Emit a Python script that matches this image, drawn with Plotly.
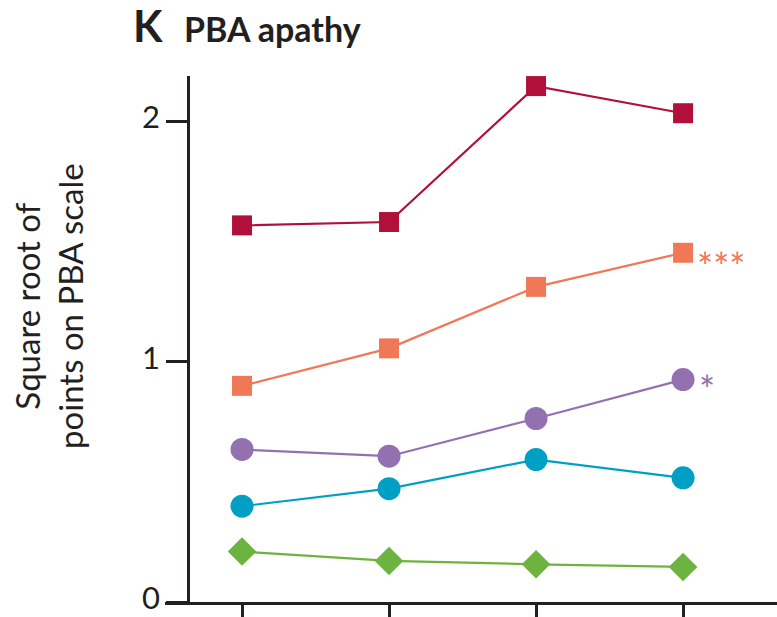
import plotly.graph_objects as go

# ---- data ----
timepoints = [0, 1, 2, 3]
series_names = ["Group 1", "Group 2", "Group 3", "Group 4", "Group 5"]
dark_red = [1.568, 1.582, 2.148, 2.035]
salmon = [0.900, 1.056, 1.312, 1.454]
purple = [0.635, 0.607, 0.764, 0.926]
blue = [0.399, 0.472, 0.593, 0.517]
green = [0.210, 0.171, 0.157, 0.146]
y_ticks = [0, 1, 2]
salmon_sig = "***"
purple_sig = "*"

# ---- styling ----
W, H = 777, 617
ML, MR, MT, MB = 165, 0, 76, 15
PW, PH = W - ML - MR, H - MT - MB
INK = "#231F20"
FONT = "Lato, Liberation Sans, sans-serif"

def px_x(px):
    return (px - ML) / PW

def px_y(py):
    return (H - MB - py) / PH

styles = [
    (dark_red, "#B0103A", "square", 20),
    (salmon, "#F07857", "square", 20),
    (purple, "#9370B0", "circle", 23),
    (blue, "#00A0C4", "circle", 23),
    (green, "#6DB33F", "diamond", 22),
]

fig = go.Figure()
for name, (vals, col, sym, sz) in zip(series_names, styles):
    fig.add_trace(go.Scatter(
        x=timepoints, y=vals, mode="lines+markers", name=name,
        line=dict(color=col, width=2.2),
        marker=dict(color=col, symbol=sym, size=sz, line=dict(width=0)),
        showlegend=False,
    ))

annotations = [
    dict(x=timepoints[-1], y=salmon[-1], xref="x", yref="y", text=salmon_sig,
         showarrow=False, xanchor="left", yanchor="middle", xshift=12, yshift=-13,
         font=dict(family=FONT, size=38, color="#F07857")),
    dict(x=timepoints[-1], y=purple[-1], xref="x", yref="y", text=purple_sig,
         showarrow=False, xanchor="left", yanchor="middle", xshift=14, yshift=-9,
         font=dict(family=FONT, size=38, color="#9370B0")),
    dict(x=px_x(131), y=px_y(26), xref="paper", yref="paper", text="<b>K</b>",
         showarrow=False, xanchor="left", yanchor="middle",
         font=dict(family=FONT, size=43, color=INK)),
    dict(x=px_x(182), y=px_y(29), xref="paper", yref="paper", text="<b>PBA apathy</b>",
         showarrow=False, xanchor="left", yanchor="middle",
         font=dict(family=FONT, size=34, color=INK)),
    dict(x=px_x(48), y=px_y(306), xref="paper", yref="paper",
         text="Square root of<br>points on PBA scale", textangle=-90,
         showarrow=False, xanchor="center", yanchor="middle", align="center",
         font=dict(family=FONT, size=33, color=INK)),
]

fig.update_layout(
    width=W, height=H,
    margin=dict(l=ML, r=MR, t=MT, b=MB, pad=0, autoexpand=False),
    paper_bgcolor="white", plot_bgcolor="white",
    annotations=annotations,
    xaxis=dict(
        range=[-0.524, 3.639], domain=[0, 1], automargin=False,
        showline=True, linecolor=INK, linewidth=3.3,
        tickvals=timepoints, ticks="outside", ticklen=16, tickwidth=3.3, tickcolor=INK,
        showticklabels=False, showgrid=False, zeroline=False,
    ),
    yaxis=dict(
        range=[0, 2.19], anchor="free", position=px_x(188.3), automargin=False,
        showline=True, linecolor=INK, linewidth=3.3,
        tickvals=y_ticks, ticks="outside", ticklen=21, tickwidth=3.3, tickcolor=INK,
        tickfont=dict(family=FONT, size=31, color=INK),
        ticklabeloverflow="allow", ticklabelshift=-4,
        showgrid=False, zeroline=False,
    ),
)

fig.write_html("out.html")
